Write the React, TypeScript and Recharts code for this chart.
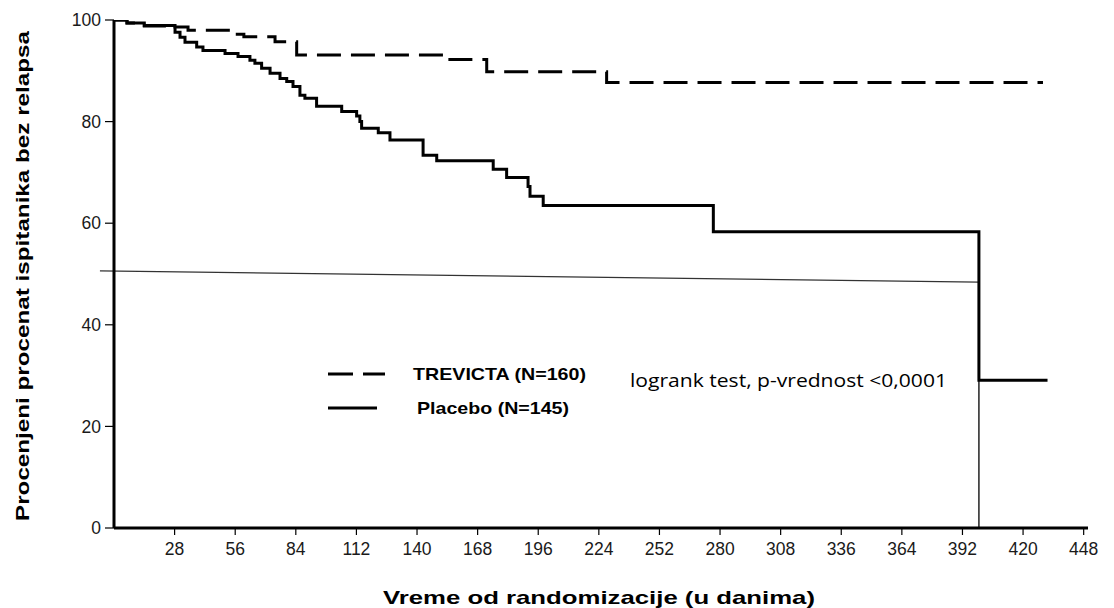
import React from 'react';
import { LineChart, Line, XAxis, YAxis, ReferenceLine, Legend } from 'recharts';

// Kaplan-Meier step points (days, percent)
const placeboDays = [0, 6, 14, 28.2, 30.5, 32.8, 38.2, 41.1, 51.3, 57.3, 62.8, 65.1, 68.2, 72.1, 76.7, 79.8, 82.7, 85.9, 88.2, 93.6, 105.2, 112.1, 113.6, 114.4, 122.1, 127.5, 142.8, 149.1, 175.2, 181.4, 191.3, 192.2, 198.3, 276.9, 399.6, 431.3];
const placeboValues = [100, 99.4, 98.9, 97.6, 96.6, 95.6, 94.7, 94.0, 93.4, 92.8, 92.1, 91.5, 90.5, 89.5, 88.5, 87.9, 86.9, 85.2, 84.6, 83.0, 82.0, 81.1, 80.0, 78.7, 77.8, 76.4, 73.4, 72.3, 70.6, 69.0, 67.2, 65.3, 63.5, 58.3, 29.1, 29.1];

const trevictaDays = [0, 6, 14, 28.2, 34.2, 55, 60, 74.4, 84.4, 154.3, 172.2, 227.6, 429.2];
const trevictaValues = [100, 99.4, 98.8, 98.6, 98.0, 97.2, 96.7, 95.7, 93.1, 92.2, 89.8, 87.7, 87.7];

const seriesNames = ['TREVICTA (N=160)', 'Placebo (N=145)'];
const xTicks = [28, 56, 84, 112, 140, 168, 196, 224, 252, 280, 308, 336, 364, 392, 420, 448];
const yTicks = [0, 20, 40, 60, 80, 100];

// thin guide lines
const medianLine = [
  { x: -6.5, y: 50.6 },
  { x: 399.6, y: 48.4 },
];
const dropLine = [
  { x: 399.6, y: 0 },
  { x: 399.6, y: 29.1 },
];

const xTitle = 'Vreme od randomizacije (u danima)';
const yTitle = 'Procenjeni procenat ispitanika bez relapsa';
const testText = 'logrank test, p-vrednost <0,0001';

const placeboData = placeboDays.map((t, i) => ({ t, v: placeboValues[i] }));
const trevictaData = trevictaDays.map((t, i) => ({ t, v: trevictaValues[i] }));

const FONT = '"Liberation Sans", Arial, sans-serif';

const renderLegend = () => (
  <svg width={1114} height={608} style={{ display: 'block', overflow: 'visible' }}>
    <line x1={328} y1={374} x2={385} y2={374} stroke="#000" strokeWidth={3} strokeDasharray="25 10" />
    <text x={413} y={380} fontFamily={FONT} fontWeight="bold" fontSize={17} fill="#000" textLength={173} lengthAdjust="spacingAndGlyphs">
      {seriesNames[0]}
    </text>
    <line x1={328} y1={408} x2={377} y2={408} stroke="#000" strokeWidth={3} />
    <text x={417} y={414} fontFamily={FONT} fontWeight="bold" fontSize={17} fill="#000" textLength={152} lengthAdjust="spacingAndGlyphs">
      {seriesNames[1]}
    </text>
    <text x={630} y={387} fontFamily="'Open Sans', Lato, sans-serif" fontSize={18} fill="#000" textLength={317} lengthAdjust="spacingAndGlyphs">
      {testText}
    </text>
  </svg>
);

export default function App() {
  return (
    <div style={{ position: 'absolute', left: 0, top: 0, fontFamily: FONT, background: '#fff' }}>
      <LineChart width={1114} height={608} margin={{ top: 20, right: 26, bottom: 0, left: 0 }}>
        <XAxis
          type="number"
          dataKey="t"
          domain={[0, 450]}
          ticks={xTicks}
          height={80}
          allowDataOverflow
          axisLine={{ stroke: '#000', strokeWidth: 3 }}
          tickLine={{ stroke: '#000', strokeWidth: 1.2 }}
          tickSize={7}
          tickMargin={8}
          tick={{ fill: '#1a1a1a', fontSize: 17.5, fontFamily: FONT }}
          label={{
            value: xTitle,
            content: () => (
              <text x={383} y={604} fontFamily={FONT} fontWeight="bold" fontSize={19} fill="#000" textLength={432} lengthAdjust="spacingAndGlyphs">
                {xTitle}
              </text>
            ),
          }}
        />
        <YAxis
          type="number"
          domain={[0, 100]}
          ticks={yTicks}
          width={114}
          allowDataOverflow
          axisLine={{ stroke: '#000', strokeWidth: 3 }}
          tickLine={{ stroke: '#000', strokeWidth: 1.2 }}
          tickSize={9}
          tickMargin={4}
          tick={{ fill: '#1a1a1a', fontSize: 17.5, fontFamily: FONT }}
          label={{
            value: yTitle,
            content: () => (
              <text transform="translate(29,521) rotate(-90)" x={0} y={0} fontFamily={FONT} fontWeight="bold" fontSize={19} fill="#000" textLength={490} lengthAdjust="spacingAndGlyphs">
                {yTitle}
              </text>
            ),
          }}
        />
        <ReferenceLine segment={medianLine} ifOverflow="visible" stroke="#333" strokeWidth={1.3} />
        <ReferenceLine segment={dropLine} ifOverflow="visible" stroke="#222" strokeWidth={1.5} />
        <Line
          data={trevictaData}
          dataKey="v"
          name={seriesNames[0]}
          type="stepAfter"
          stroke="#000"
          strokeWidth={3}
          strokeDasharray="24 10"
          dot={false}
          activeDot={false}
          isAnimationActive={false}
        />
        <Line
          data={placeboData}
          dataKey="v"
          name={seriesNames[1]}
          type="stepAfter"
          stroke="#000"
          strokeWidth={3}
          dot={false}
          activeDot={false}
          isAnimationActive={false}
        />
        <Legend
          layout="vertical"
          align="center"
          verticalAlign="middle"
          wrapperStyle={{ left: 0, top: 0, width: 1114, height: 608, pointerEvents: 'none' }}
          content={renderLegend}
        />
      </LineChart>
    </div>
  );
}
